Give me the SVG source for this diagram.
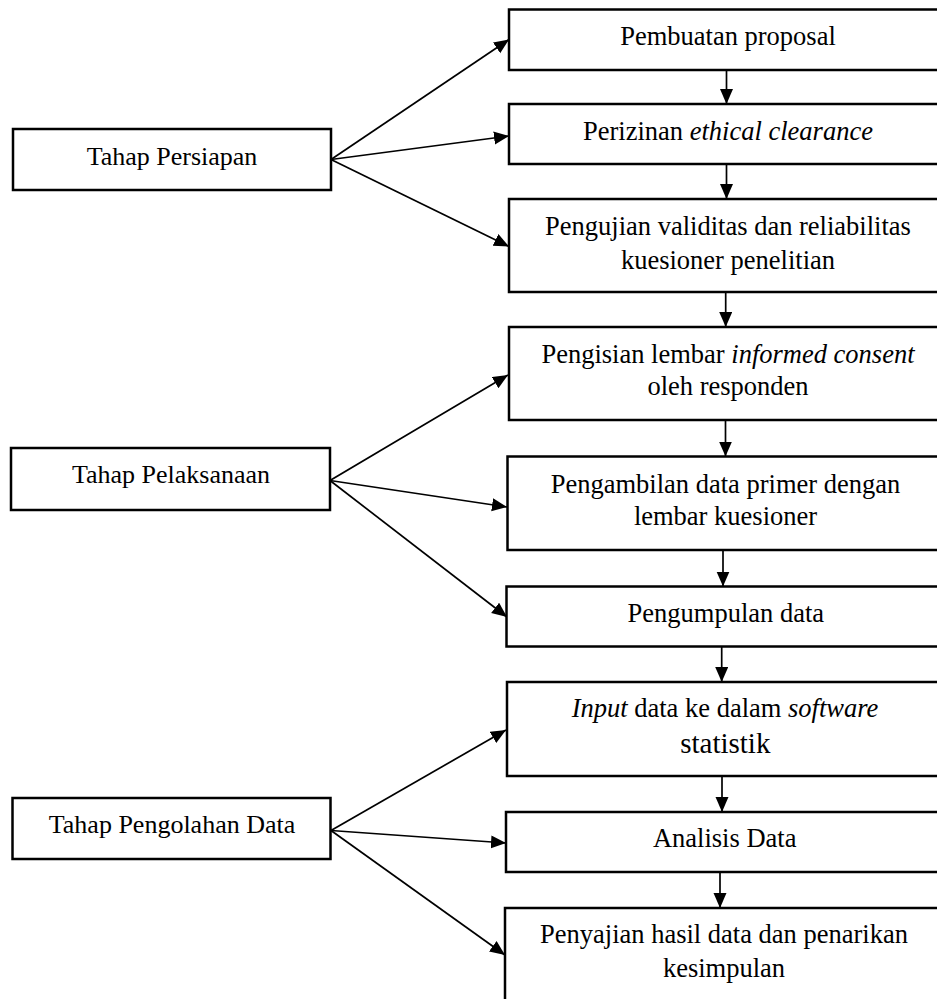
<svg xmlns="http://www.w3.org/2000/svg" width="937" height="999" viewBox="0 0 937 999">
<style>
.box{fill:#fff;stroke:#000;stroke-width:2.5}
.t{font-family:"Liberation Serif","Times New Roman",serif;font-size:26.5px;fill:#000;text-anchor:middle}
.tl{font-family:"Liberation Serif","Times New Roman",serif;font-size:26px;fill:#000;text-anchor:middle}
.i{font-style:italic}
.c{fill:none;stroke:#000;stroke-width:1.7}
</style>
<defs>
<marker id="ah" markerUnits="userSpaceOnUse" markerWidth="16" markerHeight="14" refX="15" refY="6.5" orient="auto">
<path d="M0,0 L15,6.5 L0,13 z" fill="#000"/>
</marker>
</defs>
<rect width="937" height="999" fill="#fff"/>
<g id="connectors">
<line class="c" x1="331" y1="159.5" x2="509" y2="39.5" marker-end="url(#ah)"/>
<line class="c" x1="331" y1="159.5" x2="509" y2="136" marker-end="url(#ah)"/>
<line class="c" x1="331" y1="159.5" x2="509" y2="246.5" marker-end="url(#ah)"/>
<line class="c" x1="330" y1="480.5" x2="508" y2="375" marker-end="url(#ah)"/>
<line class="c" x1="330" y1="480.5" x2="507" y2="507" marker-end="url(#ah)"/>
<line class="c" x1="330" y1="480.5" x2="507" y2="617" marker-end="url(#ah)"/>
<line class="c" x1="331" y1="830.5" x2="506" y2="730" marker-end="url(#ah)"/>
<line class="c" x1="331" y1="830.5" x2="506" y2="843" marker-end="url(#ah)"/>
<line class="c" x1="331" y1="830.5" x2="505" y2="955" marker-end="url(#ah)"/>
<line class="c" x1="726.5" y1="70" x2="726.5" y2="104" marker-end="url(#ah)"/>
<line class="c" x1="726.5" y1="164" x2="726.5" y2="199" marker-end="url(#ah)"/>
<line class="c" x1="725.7" y1="292" x2="725.7" y2="327" marker-end="url(#ah)"/>
<line class="c" x1="725.5" y1="420" x2="725.5" y2="456.5" marker-end="url(#ah)"/>
<line class="c" x1="723" y1="550" x2="723" y2="586.5" marker-end="url(#ah)"/>
<line class="c" x1="721.7" y1="646.5" x2="721.7" y2="682" marker-end="url(#ah)"/>
<line class="c" x1="722" y1="776" x2="722" y2="812" marker-end="url(#ah)"/>
<line class="c" x1="720" y1="872" x2="720" y2="908" marker-end="url(#ah)"/>
</g>
<g id="tahap-persiapan">
<rect class="box" x="13" y="129" width="318" height="61"/>
<text class="tl" x="172" y="165">Tahap Persiapan</text>
</g>
<g id="tahap-pelaksanaan">
<rect class="box" x="11" y="448" width="319" height="62"/>
<text class="tl" x="171" y="483">Tahap Pelaksanaan</text>
</g>
<g id="tahap-pengolahan">
<rect class="box" x="12.5" y="798" width="318" height="61"/>
<text class="tl" x="172" y="833">Tahap Pengolahan Data</text>
</g>
<g id="pembuatan-proposal">
<rect class="box" x="509" y="9.5" width="441" height="60.5"/>
<text class="t" x="728" y="45">Pembuatan proposal</text>
</g>
<g id="perizinan">
<rect class="box" x="509" y="104" width="441" height="60"/>
<text class="t" x="728" y="139.5">Perizinan <tspan class="i">ethical clearance</tspan></text>
</g>
<g id="pengujian">
<rect class="box" x="509" y="199" width="441" height="93"/>
<text class="t" x="728" y="235">Pengujian validitas dan reliabilitas</text>
<text class="t" x="728" y="268.5">kuesioner penelitian</text>
</g>
<g id="pengisian">
<rect class="box" x="509" y="327" width="441" height="93"/>
<text class="t" x="728" y="363">Pengisian lembar <tspan class="i">informed consent</tspan></text>
<text class="t" x="728" y="395">oleh responden</text>
</g>
<g id="pengambilan">
<rect class="box" x="507.5" y="456.5" width="443" height="93.5"/>
<text class="t" x="725.5" y="492.5">Pengambilan data primer dengan</text>
<text class="t" x="725.5" y="525">lembar kuesioner</text>
</g>
<g id="pengumpulan">
<rect class="box" x="506.5" y="586.5" width="444" height="60"/>
<text class="t" x="725.8" y="621.5">Pengumpulan data</text>
</g>
<g id="input">
<rect class="box" x="507" y="682" width="443" height="94"/>
<text class="t" x="725" y="716.5"><tspan class="i">Input</tspan> data ke dalam <tspan class="i">software</tspan></text>
<text class="t" x="725.3" y="753" style="font-size:29px">statistik</text>
</g>
<g id="analisis">
<rect class="box" x="506" y="812" width="444" height="60"/>
<text class="t" x="724.7" y="846.5">Analisis Data</text>
</g>
<g id="penyajian">
<rect class="box" x="505" y="908" width="445" height="110"/>
<text class="t" x="724" y="943">Penyajian hasil data dan penarikan</text>
<text class="t" x="724" y="976.5">kesimpulan</text>
</g>
</svg>
